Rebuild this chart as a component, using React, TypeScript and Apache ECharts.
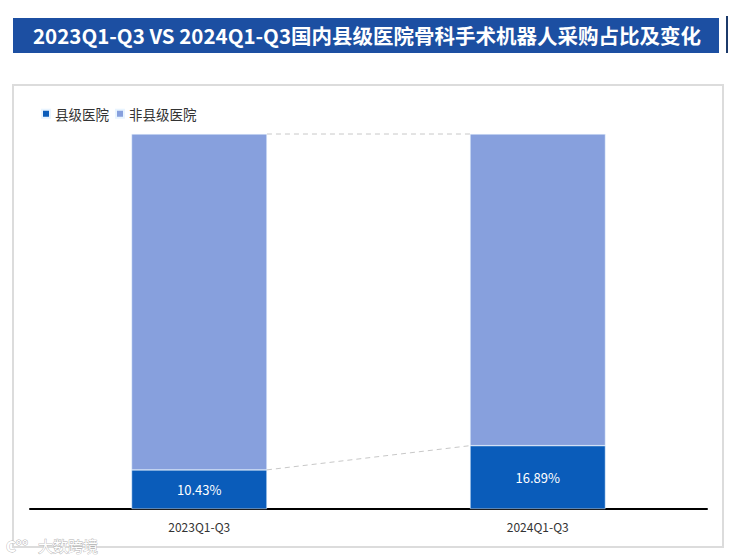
import React, { useEffect, useRef } from "react";
import * as echarts from "echarts";

const TITLE = "2023Q1-Q3 VS 2024Q1-Q3国内县级医院骨科手术机器人采购占比及变化";
const categories = ["2023Q1-Q3", "2024Q1-Q3"];
const countyShare = [10.43, 16.89];
const otherShare = [89.57, 83.11];
const seriesNames = ["县级医院", "非县级医院"];

export default function App() {
  const ref = useRef<HTMLDivElement>(null);
  useEffect(() => {
    const chart = echarts.init(ref.current!, null, { renderer: "svg" });
    const totals = countyShare.map((v, i) => v + otherShare[i]);
    const connectors = [
      [0, countyShare[0], countyShare[1]],
      [0, totals[0], totals[1]],
    ];
    const font = "'Noto Sans CJK SC', 'Microsoft YaHei', sans-serif";
    chart.setOption({
      animation: false,
      backgroundColor: "#fff",
      textStyle: { fontFamily: font },
      graphic: [
        { type: "rect", shape: { x: 13, y: 18, width: 706, height: 35 }, style: { fill: "#1c4fa2" }, z: 1 },
        { type: "rect", shape: { x: 726, y: 16, width: 2, height: 37 }, style: { fill: "#1c3a6a" }, z: 1 },
        {
          type: "text", x: 367, y: 35, z: 2,
          style: { text: TITLE, fill: "#fff", font: `bold 20.5px ${font}`, align: "center", verticalAlign: "middle" },
        },
        { type: "rect", shape: { x: 13, y: 85, width: 710, height: 462 }, style: { fill: "none", stroke: "#dcdcdc", lineWidth: 2 }, z: 0 },
        {
          type: "text", x: 38, y: 545, z: 5,
          style: { text: "大数跨境", fill: "#fff", stroke: "#b0b0b0", lineWidth: 0.8, font: `15px ${font}`, verticalAlign: "middle" },
        },
        {
          type: "text", x: 6, y: 545, z: 5,
          style: { text: "C°°", fill: "#fff", stroke: "#b0b0b0", lineWidth: 0.8, font: `bold 15px ${font}`, verticalAlign: "middle" },
        },
      ],
      legend: {
        data: seriesNames,
        left: 36,
        top: 102,
        icon: "rect",
        itemWidth: 8,
        itemHeight: 8,
        itemGap: 6,
        textStyle: { fontSize: 13.5, color: "#333", fontFamily: font },
      },
      grid: { left: 30, right: 23, top: 134, bottom: 50 },
      xAxis: {
        type: "category",
        data: categories,
        axisLine: { lineStyle: { color: "#000", width: 2 } },
        axisTick: { show: false },
        axisLabel: { color: "#333", fontSize: 12, margin: 11, fontFamily: font },
      },
      yAxis: { type: "value", min: 0, max: 100, show: false, splitLine: { show: false } },
      series: [
        {
          name: seriesNames[0],
          type: "bar",
          stack: "share",
          data: countyShare,
          barWidth: "40%",
          itemStyle: { color: "#0a5cba", borderColor: "#e8f4ff", borderWidth: 0.5 },
          label: {
            show: true,
            position: "inside",
            color: "#fff",
            fontSize: 13,
            fontFamily: font,
            formatter: (p: any) => `${p.value.toFixed(2)}%`,
          },
        },
        {
          name: seriesNames[1],
          type: "bar",
          stack: "share",
          data: otherShare,
          barWidth: "40%",
          itemStyle: { color: "#87a0dd", borderColor: "#e8f4ff", borderWidth: 0.5 },
        },
        {
          type: "custom",
          name: "connector",
          data: connectors,
          encode: { x: 0, y: 1 },
          silent: true,
          z: 1,
          renderItem: (params: any, api: any) => {
            const v1 = api.value(1);
            const v2 = api.value(2);
            const p1 = api.coord([0, v1]);
            const p2 = api.coord([1, v2]);
            const half = api.size([1, 0])[0] * 0.2;
            return {
              type: "line",
              shape: { x1: p1[0] + half, y1: p1[1], x2: p2[0] - half, y2: p2[1] },
              style: { stroke: "#c8c8c8", lineWidth: 1, lineDash: [5, 4] },
            };
          },
        },
      ],
    });
    return () => chart.dispose();
  }, []);
  return <div ref={ref} style={{ position: "fixed", left: 0, top: 0, width: 730, height: 559 }} />;
}
